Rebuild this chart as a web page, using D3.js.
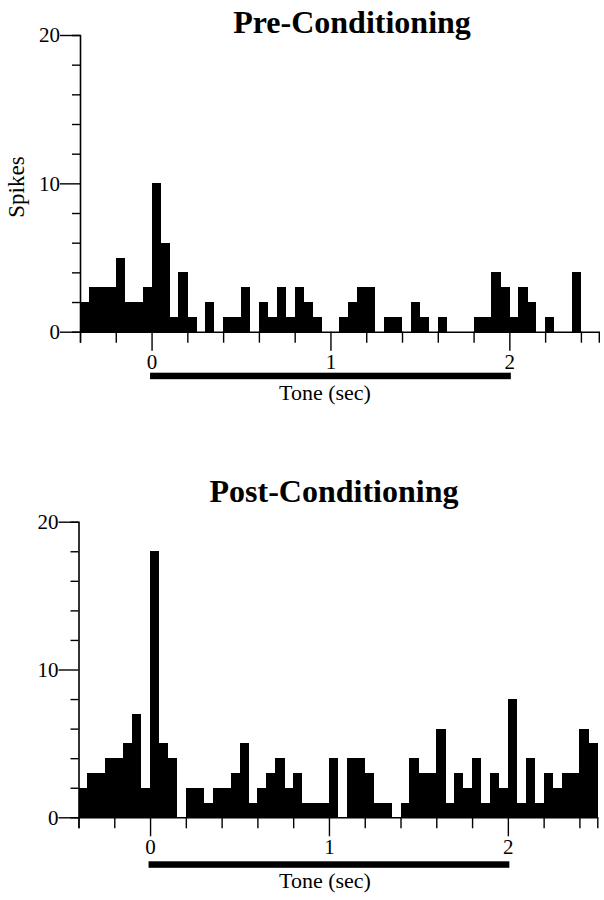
<!DOCTYPE html>
<html>
<head>
<meta charset="utf-8">
<script src="https://cdn.jsdelivr.net/npm/d3@7"></script>
<style>
  html, body { margin: 0; padding: 0; background: #fff; }
  svg { display: block; }
  text { font-family: "Liberation Serif", "Times New Roman", serif; fill: #000; }
</style>
</head>
<body>
<svg id="chart" width="604" height="900"></svg>
<script>
// ---- DATA ----
const binWidth = 0.05;
const binStarts = [-0.40,-0.35,-0.30,-0.25,-0.20,-0.15,-0.10,-0.05,
  0.00,0.05,0.10,0.15,0.20,0.25,0.30,0.35,0.40,0.45,
  0.50,0.55,0.60,0.65,0.70,0.75,0.80,0.85,0.90,0.95,
  1.00,1.05,1.10,1.15,1.20,1.25,1.30,1.35,1.40,1.45,
  1.50,1.55,1.60,1.65,1.70,1.75,1.80,1.85,1.90,1.95,
  2.00,2.05,2.10,2.15,2.20,2.25,2.30,2.35,2.40,2.45];
const preSpikes = [2,3,3,3,5,2,2,3,
  10,6,1,4,1,0,2,0,1,1,
  3,0,2,1,3,1,3,2,1,0,
  0,1,2,3,3,0,1,1,0,2,
  1,0,1,0,0,0,1,1,4,3,
  1,3,2,0,1,0,0,4,0,0];
const postSpikes = [2,3,3,4,4,5,7,2,
  18,5,4,0,2,2,1,2,2,3,
  5,1,2,3,4,2,3,1,1,1,
  4,0,4,4,3,1,1,0,1,4,
  3,3,6,1,3,2,4,1,3,2,
  8,1,4,1,3,2,3,3,6,5];
const titles = ["Pre-Conditioning", "Post-Conditioning"];
const xTickValues = [-0.4,-0.2,0,0.2,0.4,0.6,0.8,1.0,1.2,1.4,1.6,1.8,2.0,2.2,2.4];
const xMajorTicks = [0, 1, 2];
const xTickLabels = ["0", "1", "2"];
const yTickValues = [0,2,4,6,8,10,12,14,16,18,20];
const yMajorTicks = [0, 10, 20];
const yTickLabels = ["0", "10", "20"];
const toneRange = [0, 2];
const xDomain = [-0.4, 2.5];
const yDomain = [0, 20];
const yLabel = "Spikes";
const xLabel = "Tone (sec)";

// ---- LAYOUT ----
const panels = [
  { data: preSpikes, title: titles[0], titleX: 352, titleY: 33,
    left: 80, right: 598.8, zeroY: 331.7, topY: 35, showYLabel: true, toneOff: 41, labelOff: 68 },
  { data: postSpikes, title: titles[1], titleX: 334, titleY: 502,
    left: 78.5, right: 597.3, zeroY: 817.3, topY: 521.7, showYLabel: false, toneOff: 44, labelOff: 71 }
];

const svg = d3.select("#chart");

panels.forEach(p => {
  const g = svg.append("g");
  const x = d3.scaleLinear().domain(xDomain).range([p.left, p.right]);
  const y = d3.scaleLinear().domain(yDomain).range([p.zeroY, p.topY]);

  // bars
  const bins = binStarts.map((t, i) => ({ t, v: p.data[i] }));
  g.append("g")
    .attr("shape-rendering", "crispEdges")
    .selectAll("rect")
    .data(bins.filter(d => d.v > 0))
    .join("rect")
    .attr("x", d => x(d.t))
    .attr("width", d => x(d.t + binWidth) - x(d.t) + 0.3)
    .attr("y", d => y(d.v))
    .attr("height", d => y(0) - y(d.v))
    .attr("fill", "#000");

  // y axis
  const yAxis = d3.axisLeft(y)
    .tickValues(yTickValues)
    .tickSizeOuter(0)
    .tickSize(8)
    .tickFormat(d => {
      const k = yMajorTicks.indexOf(d);
      return k >= 0 ? yTickLabels[k] : "";
    });
  const ya = g.append("g").attr("transform", `translate(${p.left},0)`).call(yAxis);
  ya.select(".domain").attr("stroke", "#000").attr("stroke-width", 1.6);
  ya.selectAll(".tick line")
    .attr("stroke", "#000").attr("stroke-width", 1.4)
    .attr("x2", d => yMajorTicks.includes(d) ? -20 : -8);
  ya.selectAll(".tick text")
    .attr("x", -20)
    .attr("font-size", 21)
    .attr("font-family", "Liberation Serif, Times New Roman, serif");

  // x axis
  const xAxis = d3.axisBottom(x)
    .tickValues(xTickValues)
    .tickSizeOuter(0)
    .tickSize(11)
    .tickFormat(d => {
      const k = xMajorTicks.findIndex(m => Math.abs(m - d) < 1e-9);
      return k >= 0 ? xTickLabels[k] : "";
    });
  const xa = g.append("g").attr("transform", `translate(0,${p.zeroY})`).call(xAxis);
  xa.select(".domain").attr("stroke", "#000").attr("stroke-width", 1.4);
  xa.selectAll(".tick line")
    .attr("stroke", "#000").attr("stroke-width", 1.4)
    .attr("y2", d => xMajorTicks.some(m => Math.abs(m - d) < 1e-9) ? 19 : 11);
  xa.selectAll(".tick text")
    .attr("y", 22)
    .attr("font-size", 21)
    .attr("font-family", "Liberation Serif, Times New Roman, serif");

  // tone bar
  g.append("rect")
    .attr("x", x(toneRange[0]) - 1.5)
    .attr("width", x(toneRange[1]) - x(toneRange[0]) + 3)
    .attr("y", p.zeroY + p.toneOff)
    .attr("height", 6.5)
    .attr("fill", "#000");

  g.append("text")
    .attr("x", 325)
    .attr("y", p.zeroY + p.labelOff)
    .attr("text-anchor", "middle")
    .attr("font-size", 22)
    .text(xLabel);

  // title
  g.append("text")
    .attr("x", p.titleX)
    .attr("y", p.titleY)
    .attr("text-anchor", "middle")
    .attr("font-size", 32)
    .attr("font-weight", "bold")
    .text(p.title);

  if (p.showYLabel) {
    g.append("text")
      .attr("transform", `translate(24,187) rotate(-90)`)
      .attr("text-anchor", "middle")
      .attr("font-size", 23)
      .text(yLabel);
  }
});
</script>
</body>
</html>
